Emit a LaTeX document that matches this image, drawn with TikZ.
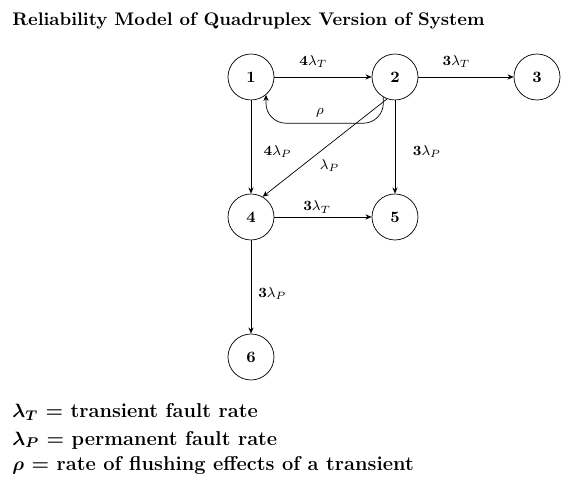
\documentclass[tikz,border=0pt]{standalone}
\usepackage{amsmath,amssymb}
\usetikzlibrary{arrows.meta,positioning,calc}

\begin{document}
\begin{tikzpicture}[
  state/.style={circle, draw, thin, minimum size=0.92cm, inner sep=0pt,
                font=\small\bfseries},
  rate/.style={font=\footnotesize, inner sep=1pt},
  legend/.style={anchor=west, inner sep=0pt, font=\fontsize{11.4}{14}\selectfont\bfseries\boldmath},
  tarr/.style={-{Stealth[length=3.5pt,width=3pt]}, thin}
]
\useasboundingbox (0,0) rectangle (11.62,9.7);

% Title
\node[anchor=west, inner sep=0pt, font=\fontsize{10.4}{13}\selectfont\bfseries] (title) at (0.24,9.28)
  {Reliability Model of Quadruplex Version of System};

% States
\node[state] (1) at (5.02,8.16) {1};
\node[state] (2) at (7.90,8.16) {2};
\node[state] (3) at (10.74,8.16) {3};
\node[state] (4) at (5.02,5.36) {4};
\node[state] (5) at (7.90,5.36) {5};
\node[state] (6) at (5.02,2.56) {6};

% Transitions
\draw[tarr] (1) -- node[rate, above=4pt, pos=0.4] {$\mathbf{4}\lambda_T$} (2);
\draw[tarr] (2) -- node[rate, above=4pt, pos=0.4] {$\mathbf{3}\lambda_T$} (3);
\draw[tarr] (1) -- node[rate, right=6pt, pos=0.55] {$\mathbf{4}\lambda_P$} (4);
\draw[tarr] (2) -- node[rate, right=9pt, pos=0.55] {$\mathbf{3}\lambda_P$} (5);
\draw[tarr] (4) -- node[rate, above=1pt, pos=0.44] {$\mathbf{3}\lambda_T$} (5);
\draw[tarr] (4) -- node[rate, right=3pt, pos=0.57] {$\mathbf{3}\lambda_P$} (6);
\draw[tarr] (2.250) -- node[rate, anchor=north west, xshift=3pt, pos=0.6] {$\lambda_P$} (4.60);
\draw[tarr, rounded corners=0.4cm] (2.240) -- ++(0,-0.52) -| node[rate, above=2pt, pos=0.27] {$\rho$} (1.310);

% Legend
\node[legend] (legT) at (0.24,1.46) {$\lambda_T$ = transient fault rate};
\node[legend] (legP) at (0.24,0.9) {$\lambda_P$ = permanent fault rate};
\node[legend] (legR) at (0.24,0.38) {$\rho$ = rate of flushing effects of a transient};
\end{tikzpicture}
\end{document}
